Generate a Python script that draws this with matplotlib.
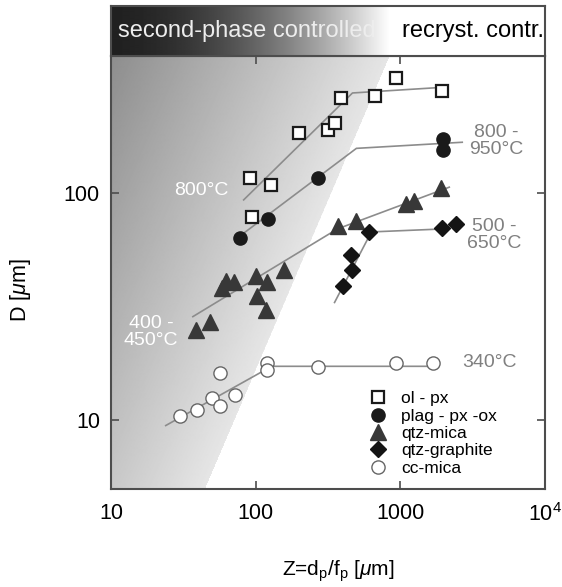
import numpy as np
import matplotlib
matplotlib.use("Agg")
import matplotlib.pyplot as plt

plt.rcParams["font.family"] = ["Liberation Sans", "DejaVu Sans"]
plt.rcParams["mathtext.fontset"] = "custom"
plt.rcParams["mathtext.rm"] = "Liberation Sans"
plt.rcParams["mathtext.it"] = "Liberation Sans:italic"
plt.rcParams["mathtext.bf"] = "Liberation Sans:bold"

# -------------------------------
# DATA
# -------------------------------
ol_px_x = [91, 127, 94, 198, 314, 351, 392, 673, 938, 1950]
ol_px_y = [116, 108, 78, 183, 189, 203, 261, 266, 319, 280]

plag_x = [77.6, 121, 268, 1980, 1980]
plag_y = [63.5, 76.9, 116, 172, 155]

qtz_mica_x = [38.6, 48.2, 58.3, 62.1, 70.5, 100, 119, 102, 117, 156, 373, 497, 1099, 1250, 1920]
qtz_mica_y = [25.1, 27.2, 38.3, 41.1, 40.7, 43.3, 40.7, 35.3, 30.7, 45.9, 71.7, 75.4, 89.5, 92.2, 105]

qtz_graph_x = [404, 467, 459, 611, 1950, 2430]
qtz_graph_y = [39.1, 45.9, 53.5, 67.4, 70.2, 73.1]

cc_mica_x = [29.9, 39.2, 49.8, 56.5, 71.6, 56.5, 119, 119, 268, 938, 1690]
cc_mica_y = [10.5, 11.1, 12.6, 11.6, 13.0, 16.1, 17.9, 16.6, 17.1, 17.8, 17.9]

# fitted trend lines (start, break, end)
ol_line_x = [82.6, 467, 2110]
ol_line_y = [93.2, 275, 292]
plag_line_x = [80, 497, 2680]
plag_line_y = [65.5, 157, 167]
qtz_line_x = [36.8, 368, 2180]
qtz_line_y = [28.6, 69.5, 106]
graph_line_x = [351, 631, 2010]
graph_line_y = [33.0, 67.4, 69.5]
cc_line_x = [23.9, 129, 1690]
cc_line_y = [9.5, 17.3, 17.3]

# temperature labels: (text, x, y, colour)
temp_labels = [
    ("800°C", 41.8, 103, "white"),
    ("800 -\n950°C", 4590, 169, "0.5"),
    ("500 -\n650°C", 4450, 65.5, "0.5"),
    ("400 -\n450°C", 18.9, 24.6, "white"),
    ("340°C", 4110, 17.9, "0.5"),
]

x_ticks = [10, 100, 1000, 10000]
x_ticklabels = ["10", "100", "1000", "10$^4$"]
y_ticks = [10, 100]
y_ticklabels = ["10", "100"]

# -------------------------------
# FIGURE
# -------------------------------
fig = plt.figure(figsize=(5.62, 5.87), dpi=100)
ax = fig.add_axes([0.1975, 0.1670, 0.7722, 0.7377])
hdr = fig.add_axes([0.1975, 0.9046, 0.7722, 0.0852])

spine_col = "0.3"

# background shading (second-phase controlled field)
W, H = 434, 433
u = (np.arange(W) + 0.5) / W
v = (np.arange(H) + 0.5) / H
U, V = np.meshgrid(u, v[::-1])
px = 111 + U * W
py = 489 - V * H
dist = ((px - 205) * 433 + (py - 489) * 185) / 471.0
shade = np.where(dist < 0, 1 - (0.1 + 0.00135 * (-dist)), 1.0)
ax.imshow(shade, extent=(0, 1, 0, 1), transform=ax.transAxes, cmap="gray",
          vmin=0, vmax=1, aspect="auto", zorder=0, interpolation="bilinear")

line_kw = dict(color="0.55", lw=1.2, zorder=2)
ax.plot(ol_line_x, ol_line_y, **line_kw)
ax.plot(plag_line_x, plag_line_y, **line_kw)
ax.plot(qtz_line_x, qtz_line_y, **line_kw)
ax.plot(graph_line_x, graph_line_y, **line_kw)
ax.plot(cc_line_x, cc_line_y, **line_kw)

ax.plot(ol_px_x, ol_px_y, "s", ms=9, mfc="white", mec="0.1", mew=1.6,
        ls="none", zorder=3, label="ol - px")
ax.plot(plag_x, plag_y, "o", ms=9.5, mfc="0.1", mec="0.1",
        ls="none", zorder=3, label="plag - px -ox")
ax.plot(qtz_mica_x, qtz_mica_y, "^", ms=11, mfc="0.22", mec="0.22",
        ls="none", zorder=3, label="qtz-mica")
ax.plot(qtz_graph_x, qtz_graph_y, "D", ms=7.8, mfc="0.08", mec="0.08",
        ls="none", zorder=3, label="qtz-graphite")
ax.plot(cc_mica_x, cc_mica_y, "o", ms=9.5, mfc="white", mec="0.4", mew=1.0,
        ls="none", zorder=3, label="cc-mica")

for txt, x, y, c in temp_labels:
    ax.text(x, y, txt, color=c, fontsize=14, ha="center", va="center",
            linespacing=1.0, zorder=4)

ax.set_xscale("log")
ax.set_yscale("log")
ax.set_xlim(10, 10000)
ax.set_ylim(5, 400)
ax.set_xticks(x_ticks)
ax.set_xticklabels(x_ticklabels)
ax.set_yticks(y_ticks)
ax.set_yticklabels(y_ticklabels)
ax.minorticks_off()
ax.tick_params(which="major", direction="in", length=6, width=1.2, color=spine_col,
               top=True, right=True, labelsize=15.5)
ax.tick_params(axis="x", pad=10)
ax.tick_params(axis="y", pad=8)
for s in ax.spines.values():
    s.set_color(spine_col)
    s.set_linewidth(1.5)

ax.set_xlabel("Z=d$_{\\rm p}$/f$_{\\rm p}$ [$\\mu$m]", fontsize=15)
ax.set_ylabel("D [$\\mu$m]", fontsize=15.5)
ax.xaxis.set_label_coords(0.523, -0.16)
ax.yaxis.set_label_coords(-0.18, 0.46)

ax.legend(loc="upper left", bbox_to_anchor=(0.596, 0.226), frameon=False,
          fontsize=12.5, handlelength=1.0, handletextpad=0.8, labelspacing=0.13,
          borderpad=0, borderaxespad=0, numpoints=1)

# header band
hu = (np.arange(W) + 0.5) / W
band = 0.13 + 0.87 * np.clip(hu / 0.643, 0, 1) ** 1.8
hdr.imshow(band[np.newaxis, :], extent=(0, 1, 0, 1), cmap="gray", vmin=0, vmax=1,
           aspect="auto", interpolation="bilinear")
hdr.set_xlim(0, 1)
hdr.set_ylim(0, 1)
hdr.set_xticks([])
hdr.set_yticks([])
for s in hdr.spines.values():
    s.set_color(spine_col)
    s.set_linewidth(1.5)
hdr.text(0.016, 0.5, "second-phase controlled", color="0.93", fontsize=17,
         ha="left", va="center")
hdr.text(0.997, 0.5, "recryst. contr.", color="black", fontsize=17,
         ha="right", va="center")

fig.savefig("out.png", dpi=100)
